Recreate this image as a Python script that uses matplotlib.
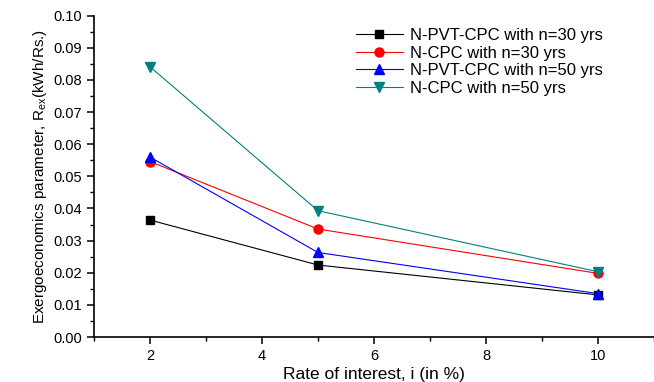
import numpy as np
import matplotlib
matplotlib.use('Agg')
import matplotlib.pyplot as plt
from matplotlib.ticker import MultipleLocator, FormatStrFormatter

plt.rcParams['font.family'] = ['Liberation Sans', 'DejaVu Sans']
plt.rcParams['mathtext.fontset'] = 'custom'
plt.rcParams['mathtext.rm'] = 'Liberation Sans'
plt.rcParams['mathtext.it'] = 'Liberation Sans'

rate = [2, 5, 10]
pvt_30 = [0.0364, 0.0224, 0.0131]
cpc_30 = [0.0546, 0.0336, 0.0198]
pvt_50 = [0.0560, 0.0263, 0.0135]
cpc_50 = [0.0841, 0.0393, 0.0203]
labels = ['N-PVT-CPC with n=30 yrs', 'N-CPC with n=30 yrs',
          'N-PVT-CPC with n=50 yrs', 'N-CPC with n=50 yrs']

fig = plt.figure(figsize=(6.54, 3.82), dpi=100)
ax = fig.add_axes([0.1437, 0.1178, 0.8563, 0.8412])

ax.plot(rate, pvt_30, color='black', marker='s', ms=6, lw=0.8, label=labels[0])
ax.plot(rate, cpc_30, color='red', marker='o', ms=6.5, lw=0.8, label=labels[1])
ax.plot(rate, pvt_50, color='blue', marker='^', ms=7, lw=0.8, label=labels[2])
ax.plot(rate, cpc_50, color='#008080', marker='v', ms=7, lw=0.8, label=labels[3])

ax.set_xlim(1, 11)
ax.set_ylim(0, 0.10)
ax.xaxis.set_major_locator(MultipleLocator(2))
ax.xaxis.set_minor_locator(MultipleLocator(1))
ax.yaxis.set_major_locator(MultipleLocator(0.01))
ax.yaxis.set_minor_locator(MultipleLocator(0.005))
ax.yaxis.set_major_formatter(FormatStrFormatter('%.2f'))
ax.spines['top'].set_visible(False)
ax.spines['right'].set_visible(False)
for s in ['left', 'bottom']:
    ax.spines[s].set_linewidth(1.2)
ax.tick_params(which='major', direction='out', length=5, width=1.1, labelsize=10.5)
ax.tick_params(which='minor', direction='out', length=3, width=1.0)

ax.set_xlabel('Rate of interest, i (in %)', fontsize=12.5, labelpad=3)
ax.set_ylabel('Exergoeconomics parameter, R$_{\\mathregular{ex}}$(kWh/Rs.)', fontsize=11, labelpad=3)

ax.legend(loc='upper left', bbox_to_anchor=(356/654, 1 - 28/382), bbox_transform=fig.transFigure,
          frameon=False, fontsize=12, handlelength=2.8, handletextpad=0.45,
          borderpad=0, borderaxespad=0, labelspacing=0.16)

fig.savefig('out.png', dpi=100)
